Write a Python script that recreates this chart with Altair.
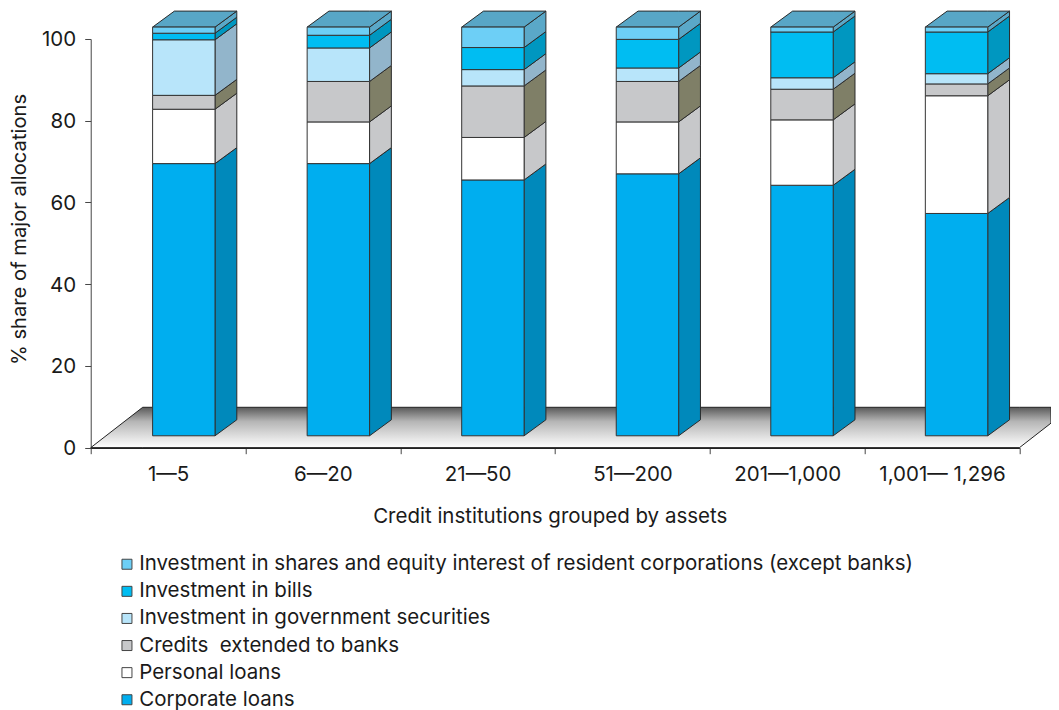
import altair as alt
import pandas as pd

FONT = "Inter"
FS = 20.5
TXT = "#1a1a1a"
groups = ["1—5", "6—20", "21—50", "51—200", "201—1,000", "1,001— 1,296"]
series = [
    "Investment in shares and equity interest of resident corporations (except banks)",
    "Investment in bills",
    "Investment in government securities",
    "Credits\u00a0 extended to banks",
    "Personal loans",
    "Corporate loans",
]
corporate = [66.6, 66.6, 62.6, 64.1, 61.3, 54.4]
personal = [13.3, 10.2, 10.4, 12.7, 16.0, 28.8]
credits = [3.4, 9.9, 12.6, 9.9, 7.5, 2.9]
government = [13.6, 8.2, 4.0, 3.3, 2.8, 2.5]
bills = [1.6, 3.1, 5.4, 7.0, 11.2, 10.2]
shares = [1.5, 2.0, 5.0, 3.0, 1.2, 1.2]
front_colors = ["#6DCFF6", "#00BDF2", "#B8E5FA", "#C7C8CA", "#FFFFFF", "#00AEEF"]
side_colors = ["#5AA8C8", "#0097C0", "#92B5CB", "#7F7F67", "#C7C8CA", "#0089BB"]
top_color = "#58A6C6"

W, H = 928.7, 408.7
upx = 100 / H
base = 11.9 * upx
dx, dy = 21.8, 16 * upx
bw = 62.4

stack = [corporate, personal, credits, government, bills, shares]
order = list(range(5, -1, -1))

front, side, top = [], [], []
for i, g in enumerate(groups):
    x0 = 61.9 + i * 154.55
    low = base
    for lvl, vals in enumerate(stack):
        k = order[lvl]
        hi = low + vals[i]
        front.append(dict(s=series[k], x=x0, x2=x0 + bw, y=low, y2=hi))
        sid = f"{i}-{lvl}"
        side.append(dict(id=sid, fill=side_colors[k], x=x0 + bw, y=low, y2=hi))
        side.append(dict(id=sid, fill=side_colors[k], x=x0 + bw + dx, y=low + dy, y2=hi + dy))
        low = hi
    tid = f"t{i}"
    top += [
        dict(id=tid, fill=top_color, x=x0, y=low, y2=low),
        dict(id=tid, fill=top_color, x=x0 + dx, y=low, y2=low + dy),
        dict(id=tid, fill=top_color, x=x0 + bw, y=low, y2=low + dy),
        dict(id=tid, fill=top_color, x=x0 + bw + dx, y=low + dy, y2=low + dy),
    ]

fd = 52.0
fh = 40.4 * upx
cut = 1051 - 90.7 - W
floor = pd.DataFrame([
    dict(x=0, y=0, y2=0),
    dict(x=fd, y=0, y2=fh),
    dict(x=W, y=0, y2=fh),
    dict(x=W + cut, y=fh * cut / fd, y2=fh),
])

xs = alt.Scale(domain=[0, W], nice=False, zero=False)
ys = alt.Scale(domain=[0, 100], nice=False, zero=False)
X = alt.X("x:Q", scale=xs, axis=None)
Y = alt.Y("y:Q", scale=ys, stack=None, axis=alt.Axis(
    values=[0, 20, 40, 60, 80, 100], title="% share of major allocations",
    titleFont=FONT, titleFontSize=20.2, titleFontWeight="normal", titleColor=TXT,
    titleX=-61, titleY=190,
    labelFont=FONT, labelFontSize=FS, labelColor=TXT, labelPadding=9, labelOffset=1,
    domainColor="#444444", tickColor="#444444", tickSize=6, grid=False))

grad = alt.Gradient(gradient="linear", x1=0, x2=0, y1=0, y2=1, stops=[
    alt.GradientStop(color="#5a5a5a", offset=0),
    alt.GradientStop(color="#b5b5b5", offset=0.35),
    alt.GradientStop(color="#ffffff", offset=1),
])
floor_layer = alt.Chart(floor).mark_area(color=grad, stroke="#222222", strokeWidth=1, clip=False).encode(
    x=X, y=Y, y2="y2:Q")

side_layer = alt.Chart(pd.DataFrame(side)).mark_area(stroke="#2a2a2a", strokeWidth=1).encode(
    x=X, y=Y, y2="y2:Q", detail="id:N", fill=alt.Fill("fill:N", scale=None))
top_layer = alt.Chart(pd.DataFrame(top)).mark_area(stroke="#2a2a2a", strokeWidth=1).encode(
    x=X, y=Y, y2="y2:Q", detail="id:N", fill=alt.Fill("fill:N", scale=None))

front_layer = alt.Chart(pd.DataFrame(front)).mark_bar(stroke="#333333", strokeWidth=1).encode(
    x=X, x2="x2:Q", y=Y, y2="y2:Q",
    color=alt.Color("s:N", scale=alt.Scale(domain=series, range=front_colors), legend=alt.Legend(
        orient="none", legendX=26, legendY=515, title=None, symbolType="square", symbolSize=100,
        symbolStrokeColor="#444444", symbolStrokeWidth=1, labelFont=FONT, labelFontSize=FS,
        labelColor=TXT, labelLimit=1000, rowPadding=6.1, labelOffset=2, padding=0,
        columns=1)))

cat_layer = alt.Chart(pd.DataFrame({"g": groups})).mark_rule(opacity=0).encode(
    x=alt.X("g:N", sort=groups, scale=alt.Scale(domain=groups, paddingInner=0, paddingOuter=0),
            axis=alt.Axis(title="Credit institutions grouped by assets", titleFont=FONT, titleFontSize=FS,
                          titleFontWeight="normal", titleColor=TXT, titleX=459, titleY=59,
                          labelFont=FONT, labelFontSize=FS, labelColor=TXT, labelAngle=0,
                          labelPadding=11, tickBand="extent", tickSize=6, domainColor="#222222",
                          tickColor="#444444", domainWidth=1.5, zindex=1, grid=False)))

chart = alt.layer(
    cat_layer, floor_layer, side_layer, top_layer, front_layer
).resolve_scale(x="independent").properties(
    width=W, height=H, autosize=alt.AutoSizeParams(type="none"),
    padding={"left": 82.7, "top": 31, "right": 31.6, "bottom": 262},
).configure_view(stroke=None)

chart.save("out.html", embed_options={"renderer": "svg", "actions": False})
